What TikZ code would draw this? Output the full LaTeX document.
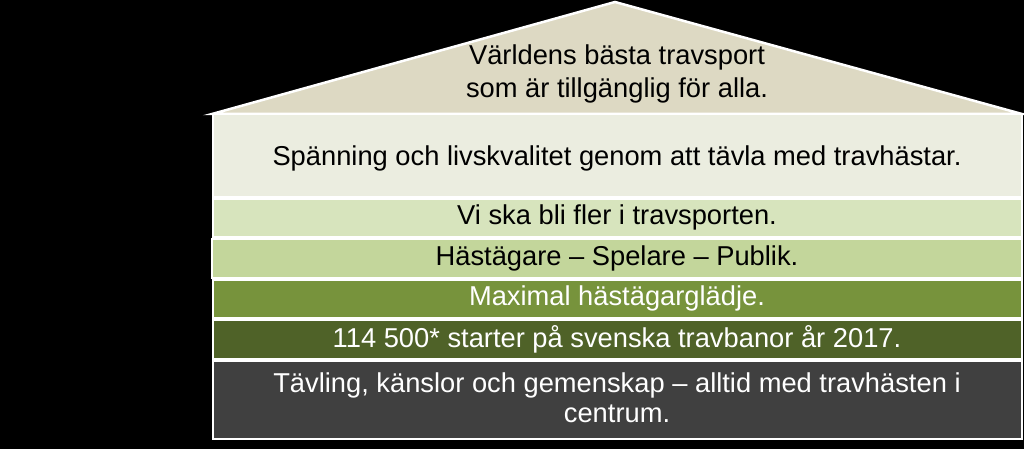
\documentclass[tikz,border=0pt]{standalone}
\usepackage{fontspec}
\setmainfont{Liberation Sans}
\definecolor{rooftan}{HTML}{DDD9C3}
\definecolor{bandA}{HTML}{EBEDE0}
\definecolor{bandB}{HTML}{D7E4BD}
\definecolor{bandC}{HTML}{C3D69B}
\definecolor{bandD}{HTML}{77933C}
\definecolor{bandE}{HTML}{4F6228}
\definecolor{bandF}{HTML}{404040}
\begin{document}
\begin{tikzpicture}[x=1pt,y=-1pt,
  band/.style={draw=white,line width=2.5pt},
  txt/.style={font=\fontsize{27.3}{33}\selectfont,align=center,inner sep=0pt}]
\fill[black] (0,0) rectangle (1024,449);
\useasboundingbox (0,0) rectangle (1024,449);
\filldraw[band,fill=rooftan] (212,114) -- (615,2) -- (1022,114) -- cycle;
\filldraw[band,fill=bandA] (213,114) rectangle (1022,197);
\filldraw[band,fill=bandB] (213,199) rectangle (1022,237);
\filldraw[band,fill=bandC] (212,239) rectangle (1022,278);
\filldraw[band,fill=bandD] (213,280) rectangle (1022,318);
\filldraw[band,fill=bandE] (213,320) rectangle (1022,359);
\filldraw[band,fill=bandF] (213,361) rectangle (1022,439);
\node[txt,text=black] (roof) at (617,74) {Världens bästa travsport\\som är tillgänglig för alla.};
\node[txt,text=black] (t1) at (617,158) {Spänning och livskvalitet genom att tävla med travhästar.};
\node[txt,text=black] (t2) at (617,217) {Vi ska bli fler i travsporten.};
\node[txt,text=black] (t3) at (617,258) {Hästägare – Spelare – Publik.};
\node[txt,text=white] (t4) at (617,298) {Maximal hästägarglädje.};
\node[txt,text=white] (t5) at (617,339) {114 500* starter på svenska travbanor år 2017.};
\node[txt,text=white,font=\fontsize{27.3}{30}\selectfont] (t6) at (617,398) {Tävling, känslor och gemenskap – alltid med travhästen i\\centrum.};
\end{tikzpicture}
\end{document}
